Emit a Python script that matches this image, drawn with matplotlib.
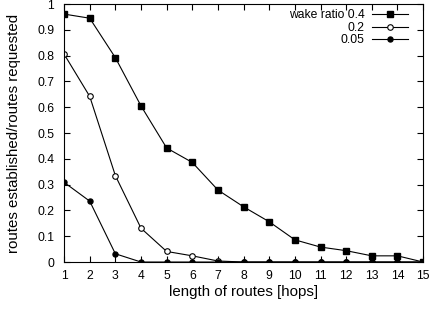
import matplotlib
matplotlib.use("Agg")
import matplotlib.pyplot as plt

plt.rcParams['font.family'] = ['Liberation Sans', 'DejaVu Sans']

hops = list(range(1, 16))
wake_04 = [0.961, 0.945, 0.792, 0.605, 0.442, 0.386, 0.279, 0.214, 0.156, 0.086, 0.058, 0.044, 0.024, 0.024, 0.0]
wake_02 = [0.806, 0.642, 0.335, 0.131, 0.041, 0.024, 0.004, 0.0, 0.0, 0.0, 0.0, 0.0, 0.0, 0.0, 0.0]
wake_005 = [0.309, 0.236, 0.032, 0.0, 0.0, 0.0, 0.0, 0.0, 0.0, 0.0, 0.0, 0.0, 0.0, 0.0, 0.0]

fig = plt.figure(figsize=(4.3, 3.09), dpi=100)
ax = fig.add_axes([0.149, 0.152, 0.835, 0.835])

ax.plot(hops, wake_04, color='black', linewidth=0.8, marker='s', markersize=4.8,
        label='wake ratio 0.4')
ax.plot(hops, wake_02, color='black', linewidth=0.8, marker='o', markersize=4,
        markerfacecolor='white', markeredgewidth=0.8, label='0.2')
ax.plot(hops, wake_005, color='black', linewidth=0.8, marker='o', markersize=3.6,
        label='0.05')

ax.set_xlim(1, 15)
ax.set_ylim(0, 1)
ax.set_xticks(hops)
ax.set_yticks([i / 10 for i in range(11)])
ax.set_yticklabels(['0'] + ['0.%d' % i for i in range(1, 10)] + ['1'])
ax.tick_params(direction='in', top=True, right=True, length=4, width=0.8,
               labelsize=8.7)
ax.tick_params(axis='x', pad=6)
ax.tick_params(axis='y', pad=7)
for s in ax.spines.values():
    s.set_linewidth(0.8)

ax.set_xlabel('length of routes [hops]', fontsize=10.8, labelpad=2)
ax.set_ylabel('routes established/routes requested', fontsize=10.8, labelpad=12)

ax.legend(loc='upper right', frameon=False, markerfirst=False, fontsize=8.7,
          handlelength=3.0, handletextpad=0.58, labelspacing=0.05,
          borderaxespad=0, borderpad=0, bbox_to_anchor=(0.958, 0.98))

fig.savefig('out.png', dpi=100)
